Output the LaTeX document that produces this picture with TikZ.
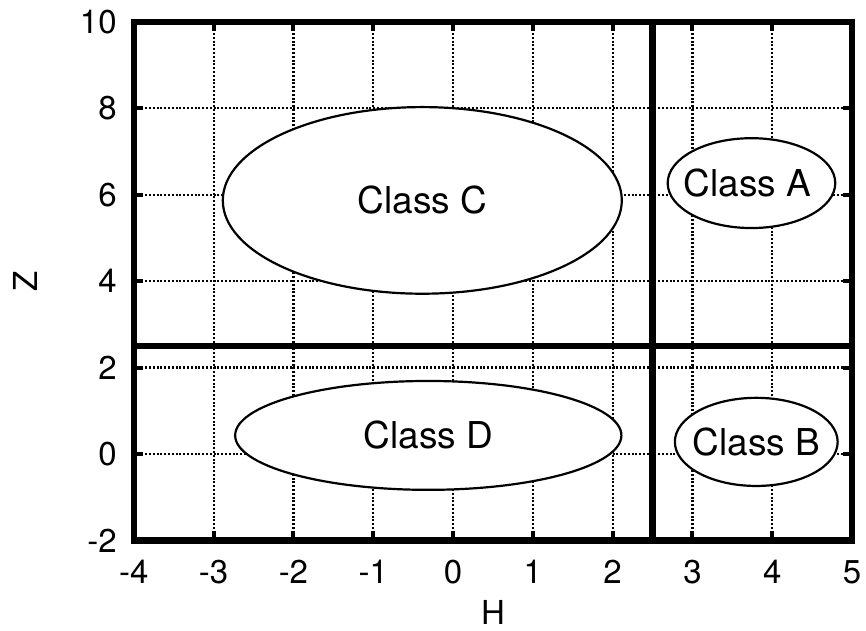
\documentclass[tikz,border=0pt]{standalone}
\usepackage{fontspec}
\setmainfont{TeX Gyre Heros}
\usetikzlibrary{calc}

\begin{document}
\begin{tikzpicture}[
  x=39.9pt, y=21.6pt,
  frame/.style={black, line width=3.2pt},
  gridln/.style={black, line width=1.1pt, dash pattern=on 1pt off 0.9pt},
  tickmk/.style={black, line width=2pt},
  cls/.style={black, line width=1.1pt, fill=white},
  clslbl/.style={font=\fontsize{18.5}{21}\selectfont},
  ticklbl/.style={font=\fontsize{16.5}{19}\selectfont},
]
\useasboundingbox (-5.677,-4.097) rectangle (5.175,10.509);

% ══════════════════════════════════════════════════════
% Grid
% ══════════════════════════════════════════════════════
\foreach \x in {-3,...,4} \draw[gridln] (\x,-2) -- (\x,10);
\foreach \y in {0,2,...,8} \draw[gridln] (-4,\y) -- (5,\y);

% ══════════════════════════════════════════════════════
% Classes (white ellipses over the grid)
% ══════════════════════════════════════════════════════
\draw[cls] (-0.385,5.87) ellipse (2.5 and 2.16);
\node[clslbl] (clsC) at (-0.385,5.87) {Class C};

\draw[cls] (3.74,6.27) ellipse (1.05 and 1.04);
\node[clslbl] (clsA) at (3.69,6.27) {Class A};

\draw[cls] (-0.31,0.43) ellipse (2.42 and 1.26);
\node[clslbl] (clsD) at (-0.31,0.43) {Class D};

\draw[cls] (3.8,0.28) ellipse (1.02 and 1.02);
\node[clslbl] (clsB) at (3.8,0.28) {Class B};

% ══════════════════════════════════════════════════════
% Tick marks
% ══════════════════════════════════════════════════════
\foreach \x in {-3,...,4} {
  \draw[tickmk] (\x,-2) -- ++(0,4.5pt);
  \draw[tickmk] (\x,10) -- ++(0,-4.5pt);
}
\foreach \y in {0,2,...,8} {
  \draw[tickmk] (-4,\y) -- ++(4.5pt,0);
  \draw[tickmk] (5,\y) -- ++(-4.5pt,0);
}

% ══════════════════════════════════════════════════════
% Frame and class boundaries
% ══════════════════════════════════════════════════════
\draw[frame] (-4,-2) rectangle (5,10);
\draw[frame] (2.5,-2) -- (2.5,10);
\draw[frame] (-4,2.5) -- (5,2.5);

% ══════════════════════════════════════════════════════
% Axis labels
% ══════════════════════════════════════════════════════
\foreach \x in {-4,...,5}
  \node[ticklbl] (xt\x) at (\x,-2.73) {\x};
\foreach \y in {-2,0,...,10}
  \node[ticklbl, anchor=east, inner sep=0pt] (yt\y) at (-4.21,\y) {\y};

\node[ticklbl, inner sep=0pt] (hlbl) at (0.5,-3.68) {H};
\node[ticklbl, rotate=90] (zlbl) at (-5.36,4.0) {Z};

\end{tikzpicture}
\end{document}
